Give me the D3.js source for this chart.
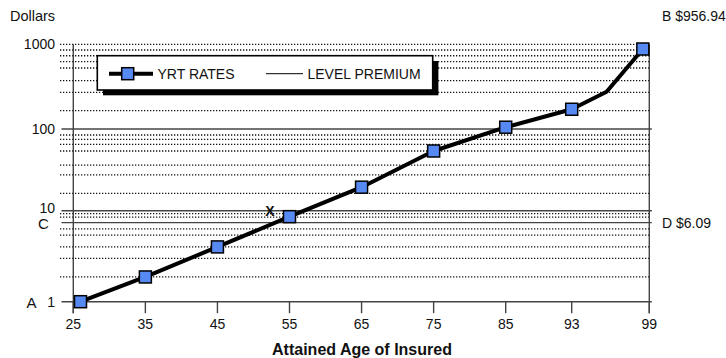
<!DOCTYPE html>
<html>
<head>
<meta charset="utf-8">
<script src="https://cdn.jsdelivr.net/npm/d3@7"></script>
<style>
	body { margin: 0; background: #fff; }
	text { font-family: "Liberation Sans", Arial, sans-serif; fill: #111; }
</style>
</head>
<body>
<div id="chart"></div>
<script>
// Ages and YRT rates
var ages = [26, 35, 45, 55, 65, 75, 85, 93, 95.7, 98.5];
var rates = [1, 1.87, 4, 8.6, 19.4, 53.8, 105, 171, 275, 880];
var markerAges = [26, 35, 45, 55, 65, 75, 85, 93, 98.5];
var markerRates = [1, 1.87, 4, 8.6, 19.4, 53.8, 105, 171, 880];
// Axis ticks
var xTicks = [25, 35, 45, 55, 65, 75, 85, 93, 99];
var yTicks = [1, 10, 100, 1000];
// Gridlines
var majorGrid = [1, 10, 100];
var minorGrid = [1.87, 3, 4, 5.4, 6.3, 8.5, 9.3,
	16.3, 27.4, 36.2, 53.8, 65, 74.8, 84.5,
	165, 270, 372, 525, 624, 733, 857, 1000];
var levelPremium = 7.4;
// Side labels
var leftLetters = [{t: "A", v: 1}, {t: "C", v: levelPremium}];
var rightNotes = ["B $956.94", "D $6.09"];
var xMark = {age: 52.3, v: 10};

var width = 726, height = 358;

// Age axis is stretched at the top end
var x = d3.scaleLinear()
	.domain([25, 85, 93, 99])
	.range([73.3, 505.7, 571.7, 649.3]);
// Log dollars, one segment per decade
var y = d3.scaleLog()
	.domain([1, 10, 100, 1000])
	.range([301.7, 210.7, 129, 44.3]);

var svg = d3.select("#chart").append("svg")
	.attr("width", width)
	.attr("height", height);

// Dotted gridlines
svg.append("g").selectAll("line")
	.data(minorGrid)
	.enter().append("line")
	.attr("x1", 60).attr("x2", x(99))
	.attr("y1", d => y(d)).attr("y2", d => y(d))
	.attr("stroke", "#111")
	.attr("stroke-width", 1.3)
	.attr("stroke-dasharray", "1.3,1.7");

// Solid gridlines and level premium line
svg.append("g").selectAll("line")
	.data(majorGrid.concat([levelPremium]))
	.enter().append("line")
	.attr("x1", 61.5).attr("x2", x(99) + 2.5)
	.attr("y1", d => y(d)).attr("y2", d => y(d))
	.attr("stroke", "#444")
	.attr("stroke-width", 1.4);

// Left and right axis lines
svg.append("g").selectAll("line")
	.data([25, 99])
	.enter().append("line")
	.attr("x1", d => x(d)).attr("x2", d => x(d))
	.attr("y1", y(1000)).attr("y2", y(1) + 11.5)
	.attr("stroke", "#444")
	.attr("stroke-width", 1.4);

// X ticks
var xAxis = svg.append("g")
	.attr("transform", "translate(0," + y(1) + ")");
xAxis.selectAll("line")
	.data(xTicks)
	.enter().append("line")
	.attr("x1", d => x(d)).attr("x2", d => x(d))
	.attr("y1", 0).attr("y2", 11.5)
	.attr("stroke", "#444")
	.attr("stroke-width", 1.4);
xAxis.selectAll("text")
	.data(xTicks)
	.enter().append("text")
	.attr("x", d => x(d))
	.attr("y", 27.5)
	.attr("text-anchor", "middle")
	.style("font-size", "14px")
	.text(d => d);

// Y tick labels
svg.append("g").selectAll("text")
	.data(yTicks)
	.enter().append("text")
	.attr("x", 55)
	.attr("y", d => y(d) + (d == 10 ? 2.5 : 5))
	.attr("text-anchor", "end")
	.style("font-size", "14px")
	.text(d => d);

// A and C letters
svg.append("g").selectAll("text")
	.data(leftLetters)
	.enter().append("text")
	.attr("x", d => d.t == "A" ? 31.5 : 43.5)
	.attr("y", d => y(d.v) + 6)
	.attr("text-anchor", "middle")
	.style("font-size", "15px")
	.text(d => d.t);

// Right side notes
svg.append("text")
	.attr("x", 662).attr("y", 21)
	.style("font-size", "14px")
	.text(rightNotes[0]);
svg.append("text")
	.attr("x", 662).attr("y", y(levelPremium) + 5.5)
	.style("font-size", "14px")
	.text(rightNotes[1]);

svg.append("text")
	.attr("x", 10).attr("y", 21)
	.style("font-size", "14.5px")
	.text("Dollars");

svg.append("text")
	.attr("x", 362).attr("y", 355)
	.attr("text-anchor", "middle")
	.style("font-size", "16px")
	.style("font-weight", "bold")
	.text("Attained Age of Insured");

// Legend with drop shadow
var leg = svg.append("g");
leg.append("rect")
	.attr("x", 103).attr("y", 61)
	.attr("width", 335.4).attr("height", 34.3)
	.attr("fill", "#000");
leg.append("rect")
	.attr("x", 97.3).attr("y", 55.7)
	.attr("width", 335.4).attr("height", 34.3)
	.attr("fill", "#fff")
	.attr("stroke", "#000")
	.attr("stroke-width", 1.6);
leg.append("line")
	.attr("x1", 109).attr("x2", 153).attr("y1", 73.7).attr("y2", 73.7)
	.attr("stroke", "#000").attr("stroke-width", 4);
leg.append("rect")
	.attr("x", 121.7).attr("y", 67.7).attr("width", 12).attr("height", 12)
	.attr("fill", "#5689f2").attr("stroke", "#000").attr("stroke-width", 1.5);
leg.append("text")
	.attr("x", 157.5).attr("y", 78.8)
	.style("font-size", "14px")
	.text("YRT RATES");
leg.append("line")
	.attr("x1", 266).attr("x2", 303).attr("y1", 73.7).attr("y2", 73.7)
	.attr("stroke", "#000").attr("stroke-width", 1);
leg.append("text")
	.attr("x", 307.5).attr("y", 78.8)
	.style("font-size", "14px")
	.text("LEVEL PREMIUM");

// YRT rate line
var line = d3.line()
	.x((d, i) => x(ages[i]))
	.y(d => y(d));
svg.append("path")
	.datum(rates)
	.attr("d", line)
	.attr("fill", "none")
	.attr("stroke", "#000")
	.attr("stroke-width", 4)
	.attr("stroke-linejoin", "round");

// Square markers
svg.append("g").selectAll("rect")
	.data(markerRates)
	.enter().append("rect")
	.attr("x", (d, i) => x(markerAges[i]) - 6)
	.attr("y", d => y(d) - 6)
	.attr("width", 12).attr("height", 12)
	.attr("fill", "#5689f2")
	.attr("stroke", "#000")
	.attr("stroke-width", 1.5);

// X mark
svg.append("text")
	.attr("x", x(xMark.age)).attr("y", y(xMark.v) + 5)
	.attr("text-anchor", "middle")
	.style("font-size", "14px")
	.style("font-weight", "bold")
	.text("X");
</script>
</body>
</html>
